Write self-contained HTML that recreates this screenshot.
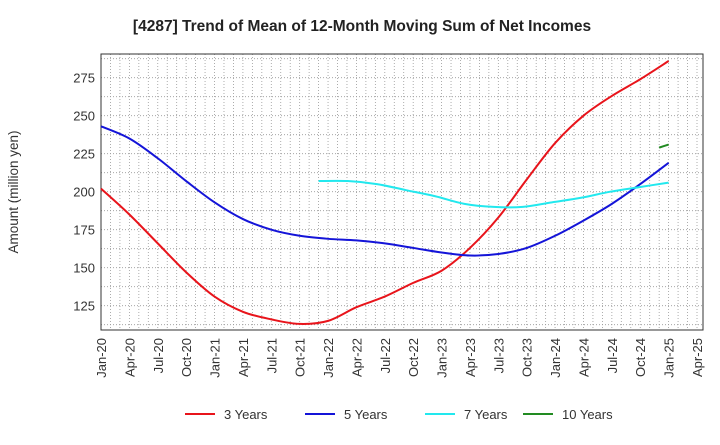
<!DOCTYPE html>
<html><head><meta charset="utf-8"><style>body{margin:0;background:#fff;font-family:"Liberation Sans",sans-serif}</style></head>
<body>
<svg id="chart" width="720" height="440" xmlns="http://www.w3.org/2000/svg" font-family="Liberation Sans, sans-serif">
<text x="362" y="31" text-anchor="middle" font-size="15.5" font-weight="bold" fill="#222">[4287]  Trend of Mean of 12-Month Moving Sum of Net Incomes</text>
<text transform="translate(18,192) rotate(-90)" text-anchor="middle" font-size="13.5" fill="#333">Amount (million yen)</text>
<g id="grid"></g><g id="axes"></g><g id="series"></g>
<g id="legend"></g>
</svg>
<script>
const xLabels=["Jan-20","Apr-20","Jul-20","Oct-20","Jan-21","Apr-21","Jul-21","Oct-21","Jan-22","Apr-22","Jul-22","Oct-22","Jan-23","Apr-23","Jul-23","Oct-23","Jan-24","Apr-24","Jul-24","Oct-24","Jan-25","Apr-25"];
const yTicks=[125,150,175,200,225,250,275];
const s3=[202,185,166,147,131,121,116,113,115,124,131,140,148,163,183,208,232,250,263,274,286];
const s5=[243,235,222,207,193,182,175,171,169,168,166,163,160,158,159,163,171,181,192,205,219];
const s7=[207,207,205,201,197,192,190,190,193,196,200,203,206];
const s7Start=23;
const s10=[229,231];
const s10StartMonth=59;
const L=101,R=703,T=54,B=330,VMIN=109,VMAX=290.6;
const xm=m=>L+m*596/63;
const y=v=>B-(v-VMIN)*(B-T)/(VMAX-VMIN);
const NS="http://www.w3.org/2000/svg";
function mk(tag,attrs,parent){const e=document.createElementNS(NS,tag);for(const k in attrs)e.setAttribute(k,attrs[k]);parent.appendChild(e);return e;}
const grid=document.getElementById('grid'),axes=document.getElementById('axes'),ser=document.getElementById('series'),leg=document.getElementById('legend');
for(let m=1;m<=63;m++){const g=mk('line',{x1:xm(m),x2:xm(m),y1:T,y2:B,stroke:'#999','stroke-dasharray':'1,2','stroke-width':0.8},grid);

}
for(let v=112.5;v<VMAX;v+=12.5){const g=mk('line',{x1:L,x2:R,y1:y(v),y2:y(v),stroke:'#999','stroke-dasharray':'1,2','stroke-width':0.8},grid);

}
const fr=mk('rect',{x:L,y:T,width:R-L,height:B-T,fill:'none',stroke:'#333','stroke-width':1},axes);


yTicks.forEach(v=>{const t=mk('text',{x:L-6,y:y(v)+5,'text-anchor':'end','font-size':13,fill:'#333'},axes);t.textContent=v;

});
xLabels.forEach((s,i)=>{const x=xm(i*3);const t=mk('text',{transform:`translate(${x+5},${B+8}) rotate(-90)`,'text-anchor':'end','font-size':13,fill:'#333'},axes);t.textContent=s;

});
function pathFor(vals,startMonth,step){const pts=vals.map((v,i)=>[xm(startMonth+i*step),y(v)]);
let d=`M${pts[0][0]},${pts[0][1]}`;for(let i=0;i<pts.length-1;i++){const p0=pts[i-1]||pts[i],p1=pts[i],p2=pts[i+1],p3=pts[i+2]||p2;
d+=` C${p1[0]+(p2[0]-p0[0])/6},${p1[1]+(p2[1]-p0[1])/6} ${p2[0]-(p3[0]-p1[0])/6},${p2[1]-(p3[1]-p1[1])/6} ${p2[0]},${p2[1]}`;}return d;}
const series=[["3 Years",s3,0,3,"#e8141b","series-3-years"],["5 Years",s5,0,3,"#1414d8","series-5-years"],["7 Years",s7,s7Start,(60-s7Start)/(s7.length-1),"#22e8ee","series-7-years"],["10 Years",s10,s10StartMonth,1,"#228b22","series-10-years"]];
series.forEach(s=>{const p=mk('path',{d:pathFor(s[1],s[2],s[3]),fill:'none',stroke:s[4],'stroke-width':2},ser);

});
const lx=[185,305,425,523];
series.forEach((s,i)=>{const l=mk('line',{x1:lx[i],x2:lx[i]+30,y1:414,y2:414,stroke:s[4],'stroke-width':2},leg);


const t=mk('text',{x:lx[i]+39,y:419,'font-size':13,fill:'#333'},leg);t.textContent=s[0];

});
</script>
</body></html>
